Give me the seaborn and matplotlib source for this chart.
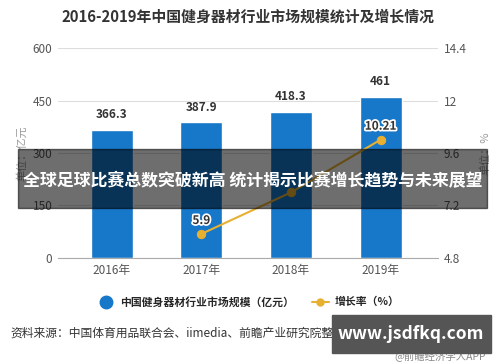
import numpy as np
import pandas as pd
import matplotlib.pyplot as plt
import matplotlib.patheffects as pe
from matplotlib.lines import Line2D
from matplotlib.patches import Rectangle
import seaborn as sns

# data
years = ['2016年', '2017年', '2018年', '2019年']
market_size = [366.3, 387.9, 418.3, 461]
growth_years = ['2017年', '2018年', '2019年']
growth_rate = [5.9, 7.8, 10.21]
growth_labels = ['5.9', '', '10.21']

left_ticks = [0, 150, 300, 450, 600]
right_ticks = [4.8, 7.2, 9.6, 12, 14.4]

sns.set_style('white')
plt.rcParams['font.family'] = ['Noto Sans CJK SC', 'DejaVu Sans']

blue = '#1777c8'
gold = '#e8b030'

fig = plt.figure(figsize=(5, 3.62), dpi=100)
ax = fig.add_axes([0.116, 0.2873, 0.76, 0.5801])

df = pd.DataFrame({'year': years, 'size': market_size})
sns.barplot(data=df, x='year', y='size', color=blue, width=0.47, saturation=1, ax=ax)

ax.set_ylim(0, 600)
ax.set_yticks(left_ticks)
ax.set_xlim(-0.6, 3.64)
ax.grid(axis='y', color='#dddddd', lw=0.8)
ax.set_axisbelow(True)
for s in ['top', 'left', 'right']:
    ax.spines[s].set_visible(False)
ax.spines['bottom'].set_color('#aaaaaa')
ax.tick_params(axis='both', length=0, labelsize=8.5, labelcolor='#555555', pad=4)
ax.set_xlabel('')
ax.set_ylabel('单位：亿元', fontsize=8, color='#999999', labelpad=4)

for i, v in enumerate(market_size):
    ax.annotate(f'{v:g}', (i, v), xytext=(0, 6), textcoords='offset points',
                ha='center', va='bottom', fontsize=8.5, fontweight='bold', color='#333333')

ax2 = ax.twinx()
gx = [years.index(y) for y in growth_years]
sns.lineplot(x=gx, y=growth_rate, color=gold, lw=1.5, marker='o', markersize=6,
             markeredgecolor=gold, ax=ax2)
ax2.set_ylim(4.8, 14.4)
ax2.set_yticks(right_ticks)
ax2.set_yticklabels(['4.8', '7.2', '9.6', '12', '14.4'])
ax2.set_xlim(-0.6, 3.64)
for s in ['top', 'left', 'right', 'bottom']:
    ax2.spines[s].set_visible(False)
ax2.tick_params(axis='y', length=0, labelsize=8.5, labelcolor='#555555', pad=4)
ax2.set_ylabel('单位：%', fontsize=8, color='#999999', labelpad=10)
for x, v, lab in zip(gx, growth_rate, growth_labels):
    if lab:
        ax2.annotate(lab, (x, v), xytext=(0, 5), textcoords='offset points',
                     ha='center', va='bottom', fontsize=8.5, fontweight='bold', color='#333333',
                     path_effects=[pe.withStroke(linewidth=2.5, foreground='white')])

fig.text(0.497, 1 - 17 / 362, '2016-2019年中国健身器材行业市场规模统计及增长情况',
         ha='center', va='center', fontsize=10.7, fontweight='bold', color='#333333')

handles = [Line2D([], [], ls='none', marker='o', markersize=9, color=blue),
           Line2D([], [], color=gold, lw=1.5, marker='o', markersize=5)]
fig.legend(handles, ['中国健身器材行业市场规模（亿元）', '增长率（%）'], loc='center',
           bbox_to_anchor=(0.497, 1 - 302 / 362), ncol=2, frameon=False,
           handlelength=1.6, columnspacing=1.6, handletextpad=0.5,
           prop={'weight': 'bold', 'size': 7.8})

fig.text(10 / 500, 1 - 333 / 362, '资料来源：中国体育用品联合会、iimedia、前瞻产业研究院整理',
         ha='left', va='center', fontsize=8.5, color='#333333')

# overlay banner
fig.patches.append(Rectangle((18 / 500, 1 - 208 / 362), 469 / 500, 59 / 362,
                             transform=fig.transFigure, color='black', alpha=0.57, zorder=5))
fig.text(0.505, 1 - 181 / 362, '全球足球比赛总数突破新高 统计揭示比赛增长趋势与未来展望',
         ha='center', va='center', fontsize=12.2, fontweight='bold', color='white', zorder=6)

# watermark box
fig.patches.append(Rectangle((332 / 500, 1 - 353 / 362), 159 / 500, 38 / 362,
                             transform=fig.transFigure, color='#555555', zorder=5))
fig.text(411 / 500, 1 - 334 / 362, 'www.jsdfkq.com', ha='center', va='center',
         fontsize=12.5, fontweight='bold', color='white', zorder=6)
fig.text(440 / 500, 1 - 356 / 362, '@前瞻经济学人APP', ha='center', va='center',
         fontsize=7.5, color='#888888', zorder=4)

fig.savefig('out.png', dpi=100)
